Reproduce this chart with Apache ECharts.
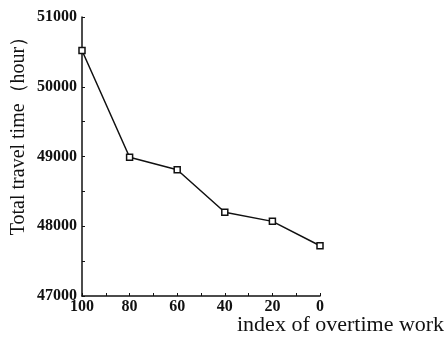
<!DOCTYPE html>
<html>
<head>
<meta charset="utf-8">
<script src="https://cdn.jsdelivr.net/npm/echarts@6/dist/echarts.min.js"></script>
<style>
  html, body { margin: 0; padding: 0; background: #fff; }
  #chart { width: 446px; height: 347px; }
</style>
</head>
<body>
<div id="chart"></div>
<script>
// data
var overtimeIndex = [100, 80, 60, 40, 20, 0];
var travelTime = [50520, 48990, 48810, 48200, 48070, 47720];

var xTicks = { min: 0, max: 100, step: 10, labelStep: 20 };
var yTicks = { min: 47000, max: 51000, step: 500, labelStep: 1000 };

var points = overtimeIndex.map(function (x, i) {
    return [x, travelTime[i]];
});

var myChart = echarts.init(document.getElementById('chart'));

var serif = 'Liberation Serif';

var option = {
    backgroundColor: '#fff',
    animation: false,
    grid: {
        left: 82,
        right: 126,
        top: 17,
        bottom: 51,
        containLabel: false,
        outerBoundsMode: 'none'
    },
    xAxis: {
        type: 'value',
        inverse: true,
        min: xTicks.min,
        max: xTicks.max,
        interval: xTicks.step,
        name: 'index of overtime work',
        nameLocation: 'start',
        nameGap: -83,
        nameMoveOverlap: false,
        nameTextStyle: {
            fontFamily: serif,
            fontSize: 22,
            color: '#111',
            align: 'left',
            verticalAlign: 'top',
            padding: [18, 0, 0, 0]
        },
        axisLine: { onZero: false, lineStyle: { color: '#111', width: 1.5 } },
        axisTick: { inside: true, length: 3, lineStyle: { color: '#111' } },
        axisLabel: {
            margin: 3,
            fontFamily: serif,
            fontSize: 16,
            fontWeight: 'bold',
            color: '#111',
            formatter: function (v) {
                return v % xTicks.labelStep === 0 ? String(v) : '';
            }
        },
        splitLine: { show: false }
    },
    yAxis: {
        type: 'value',
        min: yTicks.min,
        max: yTicks.max,
        interval: yTicks.step,
        name: 'Total travel time（hour）',
        nameLocation: 'middle',
        nameRotate: 90,
        nameGap: 53,
        nameMoveOverlap: false,
        nameTextStyle: {
            fontFamily: serif,
            fontSize: 20,
            color: '#111',
            padding: [0, 0, 0, 51]
        },
        axisLine: { show: true, onZero: false, lineStyle: { color: '#111', width: 1.5 } },
        axisTick: { show: true, inside: true, length: 3, lineStyle: { color: '#111' } },
        axisLabel: {
            margin: 5,
            fontFamily: serif,
            fontSize: 16,
            fontWeight: 'bold',
            color: '#111',
            formatter: function (v) {
                return v % yTicks.labelStep === 0 ? String(v) : '';
            }
        },
        splitLine: { show: false }
    },
    series: [
        {
            type: 'line',
            data: points,
            symbol: 'rect',
            symbolSize: 6,
            lineStyle: { color: '#111', width: 1.5 },
            itemStyle: { color: '#fff', borderColor: '#111', borderWidth: 1.5 }
        }
    ]
};

myChart.setOption(option);
</script>
</body>
</html>
